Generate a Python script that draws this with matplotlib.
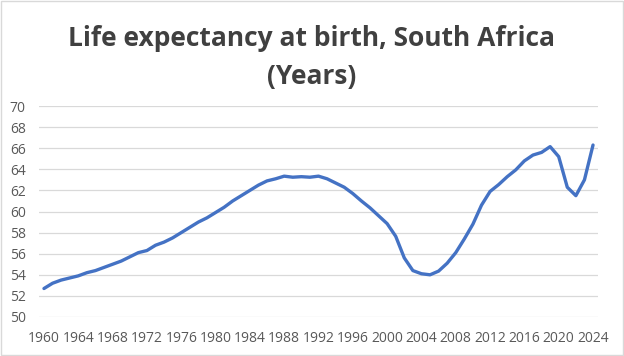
import matplotlib.pyplot as plt

years = list(range(1960, 2025))
life_exp = [52.7, 53.2, 53.5, 53.7, 53.9, 54.2, 54.4, 54.7, 55.0, 55.3,
            55.7, 56.1, 56.3, 56.8, 57.1, 57.5, 58.0, 58.5, 59.0, 59.4,
            59.9, 60.4, 61.0, 61.5, 62.0, 62.5, 62.9, 63.1, 63.35, 63.25,
            63.3, 63.25, 63.35, 63.1, 62.7, 62.3, 61.7, 61.0, 60.35, 59.6,
            58.85, 57.65, 55.6, 54.4, 54.1, 54.0, 54.35, 55.1, 56.1, 57.4,
            58.8, 60.6, 61.9, 62.55, 63.3, 63.95, 64.8, 65.35, 65.6, 66.15,
            65.2, 62.3, 61.5, 63.0, 66.3]
xtick_years = list(range(1960, 2025, 4))
yticks = list(range(50, 71, 2))

plt.rcParams['font.family'] = ['Open Sans', 'DejaVu Sans']

fig = plt.figure(figsize=(6.24, 3.56), dpi=100)
ax = fig.add_axes([39/624, 1 - 317/356, 559/624, 211/356])

ax.plot(years, life_exp, color="#4472C4", linewidth=2.4, solid_capstyle="round")
ax.set_xlim(1959.42, 2024.58)
ax.set_ylim(50, 70)
ax.set_yticks(yticks)
ax.set_xticks(xtick_years)
ax.grid(True, axis="y", color="#d9d9d9", linewidth=0.9)
ax.set_axisbelow(True)
for s in ax.spines.values():
    s.set_visible(False)
ax.tick_params(length=0, labelsize=10, labelcolor="#595959")
ax.tick_params(axis="y", pad=9.5)
ax.tick_params(axis="x", pad=10)

# title, two lines
fig.text(0.5, 1 - 46/356, "Life expectancy at birth, South Africa",
         ha="center", va="baseline", fontsize=19, fontweight="bold", color="#404040")
fig.text(0.5, 1 - 84/356, "(Years)",
         ha="center", va="baseline", fontsize=19, fontweight="bold", color="#404040")

fig.patches.append(plt.Rectangle((0.001, 0.002), 0.997, 0.995, transform=fig.transFigure,
                                 fill=False, edgecolor="#d9d9d9", linewidth=1))
fig.savefig("out.png", dpi=100)
